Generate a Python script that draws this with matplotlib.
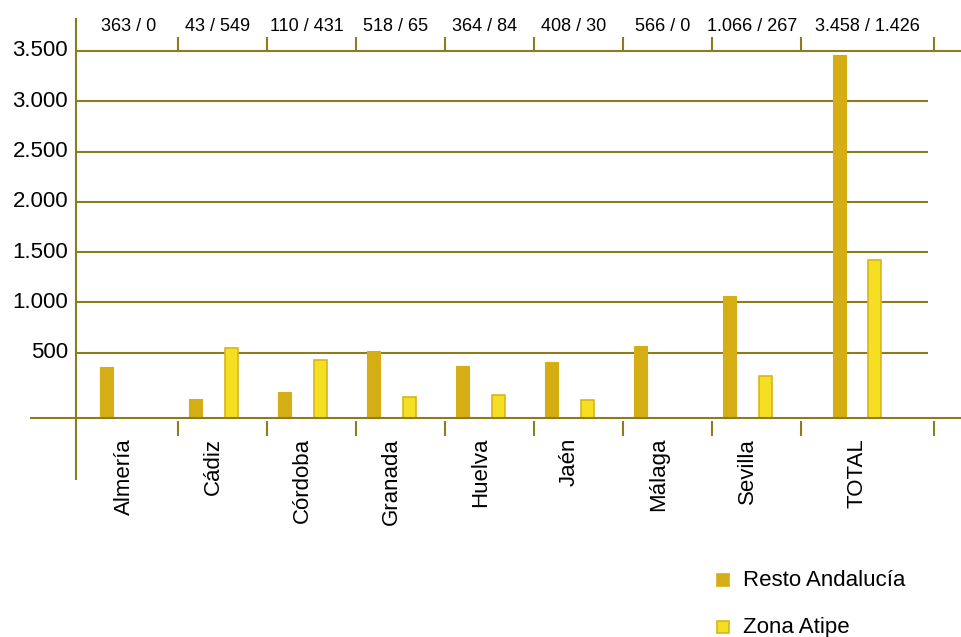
import numpy as np
import matplotlib
matplotlib.use("Agg")
import matplotlib.pyplot as plt
from matplotlib.patches import Rectangle

plt.rcParams['font.family'] = ['Liberation Sans', 'DejaVu Sans']

# -----------------------------------------------------------------------
# Data
# -----------------------------------------------------------------------
provincias = ['Almería', 'Cádiz', 'Córdoba', 'Granada', 'Huelva',
              'Jaén', 'Málaga', 'Sevilla', 'TOTAL']
resto = [363, 43, 110, 518, 364, 408, 566, 1066, 3458]
atipe = [0, 549, 431, 65, 84, 30, 0, 267, 1426]
top_labels = ['363 / 0', '43 / 549', '110 / 431', '518 / 65', '364 / 84',
              '408 / 30', '566 / 0', '1.066 / 267', '3.458 / 1.426']
y_ticks = [500, 1000, 1500, 2000, 2500, 3000, 3500]
y_tick_labels = ['500', '1.000', '1.500', '2.000', '2.500', '3.000', '3.500']

# -----------------------------------------------------------------------
# Layout
# -----------------------------------------------------------------------
line_col = '#8c7c1e'
c_resto = '#d4ae14'
c_atipe = '#f5df22'
c_atipe_edge = '#d9b41a'

base = -150                      # category axis sits a bit below zero
yaxis_x = -0.146
bounds = np.append(np.arange(9.0), 9.49)   # category separators
centers = np.arange(9) + 0.40
centers[-1] = 8.63                          # last slot is wider
bw = 0.146

fig = plt.figure(figsize=(9.61, 6.37), dpi=100)
ax = fig.add_axes([30 / 961, (637 - 480) / 637, 931 / 961, 462 / 637])
ax.set_xlim(-0.663, 9.798)
ax.set_ylim(-765, 3828)
ax.axis('off')

# grid lines and axes
ax.hlines(y_ticks[:-1], yaxis_x, 9.43, color=line_col, lw=1.5, zorder=1)
ax.hlines(3500, yaxis_x, 9.798, color=line_col, lw=1.5, zorder=1)
ax.axhline(base, color=line_col, lw=1.5, zorder=3)
ax.axvline(yaxis_x, color=line_col, lw=1.5, zorder=3)
ax.vlines(bounds[1:], 3500, 3640, color=line_col, lw=1.5)
ax.vlines(bounds[1:], -179, -328, color=line_col, lw=1.5)

# bars (zero values draw nothing)
resto = np.array(resto)
atipe = np.array(atipe)
m_r = resto > 0
m_a = atipe > 0
ax.bar(centers[m_r] - 0.2, resto[m_r] - base, bw, bottom=base,
       color=c_resto, edgecolor=c_resto, lw=0.8, zorder=2)
ax.bar(centers[m_a] + 0.2, atipe[m_a] - base, bw, bottom=base,
       color=c_atipe, edgecolor=c_atipe_edge, lw=1.2, zorder=2)

# text
for v, lab in zip(y_ticks, y_tick_labels):
    ax.text(yaxis_x - 0.09, v, lab, ha='right', va='center', fontsize=16)

for c, p in zip(centers, provincias):
    ax.text(c, -345, p, rotation=90, ha='center', va='top', fontsize=16)

top_x = centers + 0.05
top_x[-1] = centers[-1] + 0.12
for x, lab in zip(top_x, top_labels):
    ax.text(x, 3740, lab, ha='center', va='center', fontsize=13)

# legend
for yy, fc, ec, lab in [(580, c_resto, c_resto, 'Resto Andalucía'),
                        (627, c_atipe, c_atipe_edge, 'Zona Atipe')]:
    fig.patches.append(Rectangle((717 / 961, (637 - yy - 6) / 637),
                                 12 / 961, 12 / 637, facecolor=fc,
                                 edgecolor=ec, lw=1.2,
                                 transform=fig.transFigure, figure=fig))
    fig.text(743 / 961, (637 - yy) / 637, lab, ha='left', va='center',
             fontsize=16)

fig.savefig('out.png', dpi=100)
